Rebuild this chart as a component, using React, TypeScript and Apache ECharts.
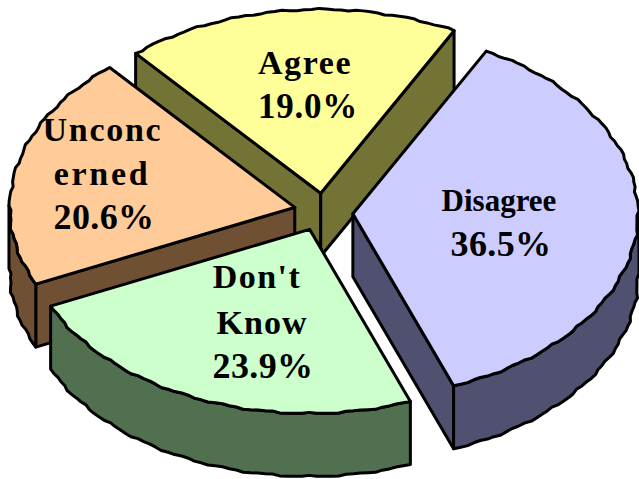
import React, { useEffect, useRef } from "react";
import * as echarts from "echarts";

const categories = ["Agree", "Disagree", "Don't Know", "Unconcerned"];
const values = [19.0, 36.5, 23.9, 20.6];
const labelLines = [["Agree"], ["Disagree"], ["Don't", "Know"], ["Unconc", "erned"]];
const topColors = ["#FFFF99", "#CCCCFF", "#CCFFCC", "#FFCC99"];
const wallColors = ["#737335", "#505070", "#507050", "#705033"];
// painter's order: back slices first
const drawOrder = [0, 3, 1, 2];

const W = 639, H = 479;
const CX = 324, CY = 212.5, RX = 285, RY = 184, DEPTH = 63, EXPLODE = 0.105, START = 130.5;
const NUDGE = [[0, 0], [-1, 0], [-3, -1], [0, -1]];
const LINE_POS: number[][][] = [
  [[305, 62.5], [308, 106]],
  [[499, 200], [501, 243.5]],
  [[257, 276.5], [262, 322.5], [263, 366]],
  [[102.5, 129], [102, 173], [104, 217]],
];
// per-text [font size, letter spacing]
const TEXT_STYLE: Record<string, number[]> = {
  "Agree": [34, 1.6], "19.0%": [35, 0.8], "Disagree": [31, 0], "36.5%": [36, 0.4],
  "Don't": [34, 1.5], "Know": [34, 1], "23.9%": [36, 0.4],
  "Unconc": [34, 1.7], "erned": [34, 2.7], "20.6%": [36, 0.4],
};

const rad = (d: number) => (d * Math.PI) / 180;

function sliceGeom(index: number) {
  const total = values.reduce((a, b) => a + b, 0);
  const before = values.slice(0, index).reduce((a, b) => a + b, 0);
  const a0 = START - (before / total) * 360;
  const a1 = a0 - (values[index] / total) * 360;
  const mid = (a0 + a1) / 2;
  const ax = CX + EXPLODE * RX * Math.cos(rad(mid)) + NUDGE[index][0];
  const ay = CY - EXPLODE * RY * Math.sin(rad(mid)) + NUDGE[index][1];
  const arc: number[][] = [];
  const low: number[][] = [];
  const steps = Math.ceil((a0 - a1) / 1.5);
  for (let s = 0; s <= steps; s++) {
    const t = a0 + ((a1 - a0) * s) / steps;
    const edge = s === 0 || s === steps ? 0 : 1;
    const wob = 1 + edge * (0.0034 * Math.sin(rad(t) * 41) + 0.002 * Math.sin(rad(t) * 97));
    const p = [ax + wob * RX * Math.cos(rad(t)), ay - wob * RY * Math.sin(rad(t))];
    arc.push(p);
    if (Math.sin(rad(t)) <= 0.02) low.push(p);
  }
  // a radial face shows only if its outward normal points toward the viewer (downward)
  const showFirst = Math.sin(rad(a0 + 90)) < 0;
  const showLast = Math.sin(rad(a1 - 90)) < 0;
  return { ax, ay, arc, low, showFirst, showLast };
}

const down = (p: number[]) => [p[0], p[1] + DEPTH];

function renderSlice(params: any) {
  const idx = drawOrder[params.dataIndex];
  const { ax, ay, arc, low, showFirst, showLast } = sliceGeom(idx);
  const apex = [ax, ay];
  const first = arc[0];
  const last = arc[arc.length - 1];
  const line = { stroke: "#000", lineWidth: 3, lineJoin: "round" };
  const wall = { fill: wallColors[idx], ...line };
  const poly = (points: number[][], style: any) => ({ type: "polygon", shape: { points }, style });
  const lines = [...labelLines[idx], `${values[idx].toFixed(1)}%`];
  const walls: any[] = [];
  if (showFirst) walls.push(poly([apex, first, down(first), down(apex)], wall));
  if (showLast) walls.push(poly([apex, last, down(last), down(apex)], wall));
  if (low.length > 1) walls.push(poly([...low, ...low.map(down).reverse()], wall));
  return {
    type: "group",
    children: [
      ...walls,
      poly([apex, ...arc], { fill: topColors[idx], ...line }),
      ...lines.map((text, i) => ({
        type: "text",
        z2: 100,
        style: {
          text,
          x: LINE_POS[idx][i][0],
          y: LINE_POS[idx][i][1],
          font: `bold ${TEXT_STYLE[text][0]}px "Liberation Serif"`,
          fill: "#000",
          align: "center",
          verticalAlign: "middle",
        },
      })),
    ],
  };
}

export default function App() {
  const ref = useRef<HTMLDivElement>(null);
  useEffect(() => {
    const chart = echarts.init(ref.current!, null, { renderer: "svg", width: W, height: H });
    chart.setOption({
      animation: false,
      backgroundColor: "#fff",
      series: [
        {
          type: "custom",
          coordinateSystem: "none",
          silent: true,
          clip: false,
          renderItem: renderSlice,
          data: drawOrder.map((i) => ({ name: categories[i], value: values[i] })),
        },
      ],
    });
    ref.current!.querySelectorAll("text").forEach((t) => {
      const st = TEXT_STYLE[(t.textContent || "").trim()];
      if (st && st[1]) t.style.letterSpacing = `${st[1]}px`;
    });
    return () => chart.dispose();
  }, []);
  return <div ref={ref} style={{ position: "absolute", left: 0, top: 0, width: W, height: H, overflow: "hidden" }} />;
}
